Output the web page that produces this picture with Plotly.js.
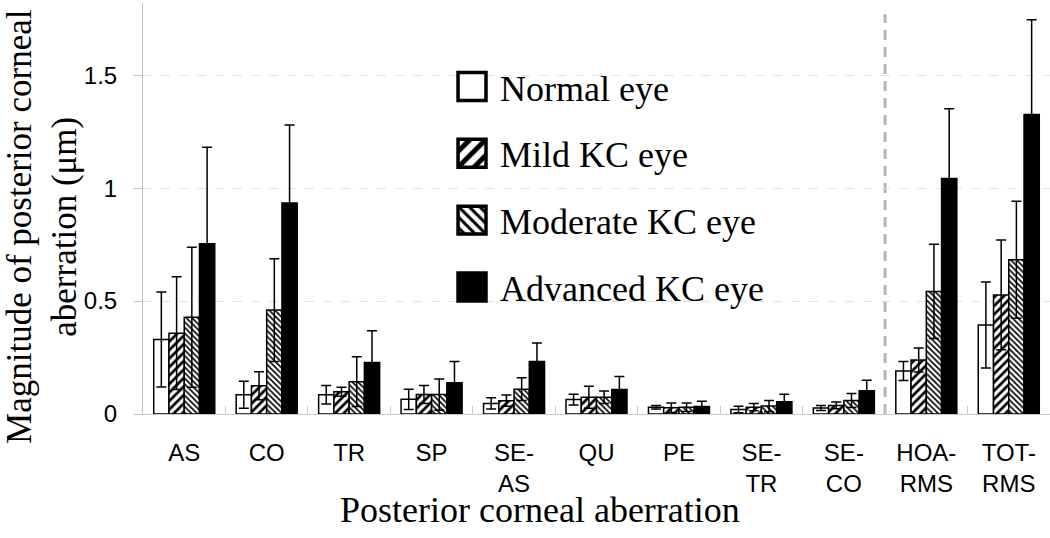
<!DOCTYPE html>
<html>
<head>
<meta charset="utf-8">
<script src="https://cdn.plot.ly/plotly-3.0.1.min.js"></script>
<style>html,body{margin:0;padding:0;background:#fff;}</style>
</head>
<body>
<div id="chart" style="width:1050px;height:538px;"></div>
<script>
// ---- data ----
var categories = ['AS','CO','TR','SP','SE-AS','QU','PE','SE-TR','SE-CO','HOA-RMS','TOT-RMS'];
var tickLabels = ['AS','CO','TR','SP','SE-<br>AS','QU','PE','SE-<br>TR','SE-<br>CO','HOA-<br>RMS','TOT-<br>RMS'];
var seriesNames = ['Normal eye','Mild KC eye','Moderate KC eye','Advanced KC eye'];
var normal     = [0.330, 0.085, 0.085, 0.065, 0.047, 0.064, 0.030, 0.020, 0.027, 0.190, 0.394];
var normalSD   = [0.210, 0.060, 0.041, 0.045, 0.025, 0.024, 0.008, 0.014, 0.011, 0.042, 0.190];
var mild       = [0.358, 0.125, 0.099, 0.086, 0.059, 0.074, 0.028, 0.030, 0.038, 0.239, 0.527];
var mildSD     = [0.250, 0.062, 0.020, 0.040, 0.025, 0.049, 0.021, 0.016, 0.015, 0.053, 0.243];
var moderate   = [0.428, 0.460, 0.143, 0.086, 0.110, 0.074, 0.030, 0.035, 0.060, 0.543, 0.683];
var moderateSD = [0.310, 0.227, 0.110, 0.069, 0.050, 0.028, 0.019, 0.025, 0.031, 0.209, 0.259];
var advanced   = [0.754, 0.934, 0.228, 0.138, 0.233, 0.108, 0.033, 0.054, 0.103, 1.043, 1.326];
var advancedSD = [0.427, 0.346, 0.141, 0.094, 0.081, 0.058, 0.024, 0.033, 0.046, 0.309, 0.420];
var yTickVals = [0, 0.5, 1, 1.5];
var yTickText = ['0', '0.5', '1', '1.5'];
var separatorAt = 8.5; // dashed line between SE-CO and HOA-RMS
var yTitle = 'Magnitude of posterior corneal<br>aberration (μm)';
var xTitle = 'Posterior corneal aberration';

var serif = 'Liberation Serif, Times New Roman, serif';
var sans = 'Liberation Sans, Arial, sans-serif';

function err(sd) {
  return {type: 'data', array: sd, visible: true, color: '#000', thickness: 1.5, width: 5};
}
var line = {color: '#000', width: 1.5};

var traces = [
  {type: 'bar', name: seriesNames[0], x: categories, y: normal, error_y: err(normalSD), legendgroup: 'g1',
   marker: {color: '#ffffff', line: line}},
  {type: 'bar', name: seriesNames[1], x: categories, y: mild, error_y: err(mildSD), legendgroup: 'g2',
   marker: {color: '#ffffff', line: line,
            pattern: {shape: '/', fgcolor: '#000', bgcolor: '#fff', size: 6, solidity: 0.45, fillmode: 'replace'}}},
  {type: 'bar', name: seriesNames[2], x: categories, y: moderate, error_y: err(moderateSD), legendgroup: 'g3',
   marker: {color: '#ffffff', line: line,
            pattern: {shape: '\\', fgcolor: '#000', bgcolor: '#fff', size: 4, solidity: 0.4, fillmode: 'replace'}}},
  {type: 'bar', name: seriesNames[3], x: categories, y: advanced, error_y: err(advancedSD), legendgroup: 'g4',
   marker: {color: '#000000', line: line}}
];

var layout = {
  width: 1050, height: 538,
  margin: {l: 143, r: 0, t: 3, b: 124},
  paper_bgcolor: '#fff', plot_bgcolor: '#fff',
  barmode: 'group', bargap: 0.26, bargroupgap: 0,
  showlegend: true,
  legend: {
    x: 0.3407, y: 0.8695, xanchor: 'left', yanchor: 'top',
    bgcolor: 'rgba(0,0,0,0)', borderwidth: 0,
    font: {family: serif, size: 36, color: '#000'},
    traceorder: 'grouped', tracegroupgap: 17
  },
  xaxis: {
    type: 'category', categoryorder: 'array', categoryarray: categories,
    tickvals: categories, ticktext: tickLabels,
    range: [-0.5, 10.5],
    tickson: 'boundaries', ticks: 'inside', ticklen: 8, tickcolor: '#c8c8c8', tickwidth: 1,
    showline: true, linecolor: '#c8c8c8', linewidth: 1,
    showgrid: false, zeroline: false,
    tickfont: {family: sans, size: 24, color: '#000'},
    ticklabelstandoff: 17,
    fixedrange: true
  },
  yaxis: {
    range: [0, 1.82],
    tickvals: yTickVals, ticktext: yTickText,
    ticks: 'outside', ticklen: 8, tickcolor: '#c0c0c0', tickwidth: 1,
    showline: true, linecolor: '#c0c0c0', linewidth: 1,
    showgrid: true, gridcolor: '#e2e2e2', griddash: 'dash', gridwidth: 1,
    zeroline: false,
    tickfont: {family: sans, size: 24, color: '#000'},
    ticklabelstandoff: 12,
    fixedrange: true
  },
  shapes: [{
    type: 'line', xref: 'x', yref: 'y', x0: separatorAt, x1: separatorAt, y0: 0, y1: 1.77,
    line: {color: '#b4b4b4', width: 3, dash: '10px,7px'}, layer: 'below'
  }],
  annotations: [
    {text: xTitle, xref: 'paper', yref: 'paper',
     x: 0.4377, y: -0.2336, xanchor: 'center', yanchor: 'middle', showarrow: false,
     font: {family: serif, size: 36, color: '#000'}},
    {text: yTitle, xref: 'paper', yref: 'paper', textangle: -90,
     x: -0.1114, y: 0.4574, xanchor: 'center', yanchor: 'middle', showarrow: false,
     font: {family: serif, size: 35, color: '#000'}}
  ]
};

Plotly.newPlot('chart', traces, layout, {displayModeBar: false, staticPlot: true}).then(function (gd) {
  gd.querySelectorAll('.legend [clip-path]').forEach(function (e) { e.removeAttribute('clip-path'); });
  gd.querySelectorAll('.legend .legendpoints path').forEach(function (p) {
    var t = p.getAttribute('transform') || '';
    p.setAttribute('transform', t + ' scale(2.33)');
  });
  gd.querySelectorAll('.legend .legendtext').forEach(function (t) { t.setAttribute('x', '48'); });
});
</script>
</body>
</html>
